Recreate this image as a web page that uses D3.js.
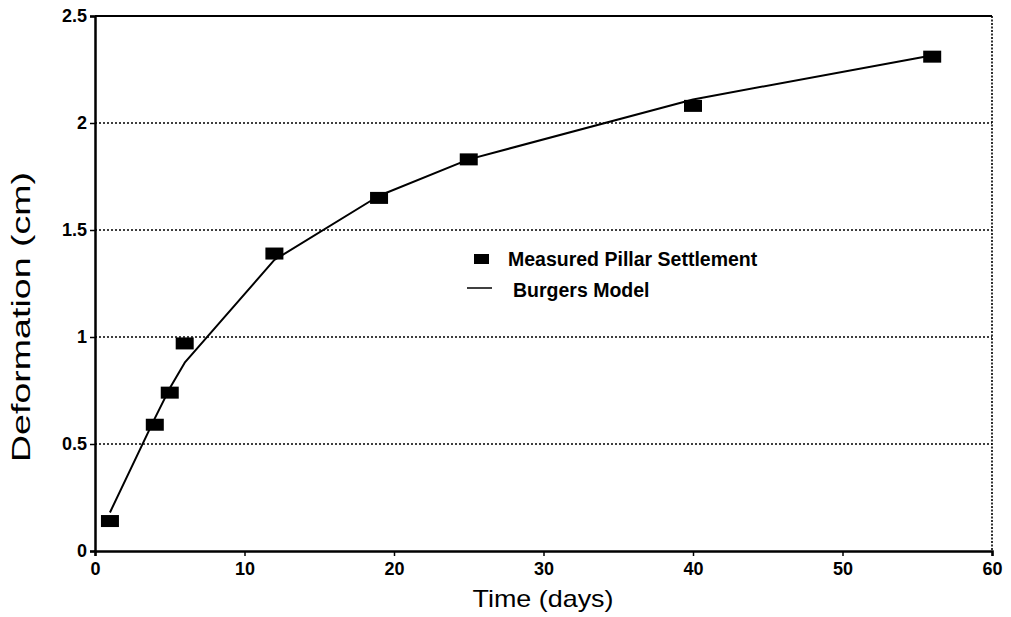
<!DOCTYPE html>
<html>
<head>
<meta charset="utf-8">
<script src="https://cdn.jsdelivr.net/npm/d3@7"></script>
<style>
  body { margin: 0; background: #fff; }
  svg { font-family: "Liberation Sans", Arial, sans-serif; }
</style>
</head>
<body>
<svg id="chart" width="1011" height="617"></svg>
<script>
// measured points
var measuredDays = [1, 4, 5, 6, 12, 19, 25, 40, 56];
var measuredDef = [0.14, 0.59, 0.74, 0.97, 1.39, 1.65, 1.83, 2.08, 2.31];

// Burgers model, evaluated at the same days
var modelDays = [1, 4, 5, 6, 12, 19, 25, 40, 55.5];
var modelDef = [0.18, 0.62, 0.76, 0.88, 1.36, 1.66, 1.83, 2.11, 2.31];

var xTicks = [0, 10, 20, 30, 40, 50, 60];
var yTicks = [0, 0.5, 1, 1.5, 2, 2.5];
var gridTicks = [0.5, 1, 1.5, 2];

var svg = d3.select("#chart");

var x = d3.scaleLinear().domain([0, 60]).range([95, 992]);
var y = d3.scaleLinear().domain([0, 2.5]).range([551, 16]);

// dotted grid
svg.append("g")
   .selectAll("line")
   .data(gridTicks)
   .enter().append("line")
   .attr("x1", x(0)).attr("x2", x(60))
   .attr("y1", function(d) { return y(d); })
   .attr("y2", function(d) { return y(d); })
   .attr("stroke", "#000")
   .attr("stroke-width", 1.6)
   .attr("stroke-dasharray", "2,2");

// frame: top solid, right dotted
svg.append("line")
   .attr("x1", x(0)).attr("x2", x(60))
   .attr("y1", y(2.5)).attr("y2", y(2.5))
   .attr("stroke", "#000").attr("stroke-width", 2);
svg.append("line")
   .attr("x1", x(60)).attr("x2", x(60))
   .attr("y1", y(2.5)).attr("y2", y(0))
   .attr("stroke", "#000").attr("stroke-width", 1.6)
   .attr("stroke-dasharray", "2,1.5");

// axes
var xAxis = svg.append("g")
   .attr("transform", "translate(0," + y(0) + ")")
   .call(d3.axisBottom(x).tickValues(xTicks).tickSize(5).tickFormat(d3.format("d")));
var yAxis = svg.append("g")
   .attr("transform", "translate(" + x(0) + ",0)")
   .call(d3.axisLeft(y).tickValues(yTicks).tickSize(5).tickFormat(function(d) { return d; }));

[xAxis, yAxis].forEach(function(a) {
  a.select(".domain").attr("stroke", "#000").attr("stroke-width", 2.5);
  a.selectAll(".tick line").attr("stroke", "#000").attr("stroke-width", 1.5);
  a.selectAll(".tick text")
   .attr("fill", "#000")
   .style("font-size", "18px")
   .style("font-weight", "bold")
   .style("font-family", "'Liberation Sans', Arial, sans-serif");
});
xAxis.selectAll(".tick text").attr("dy", "0.9em");
yAxis.selectAll(".tick text").attr("x", -8);

// model line
var line = d3.line()
   .x(function(d) { return x(d[0]); })
   .y(function(d) { return y(d[1]); });

svg.append("path")
   .datum(d3.zip(modelDays, modelDef))
   .attr("fill", "none")
   .attr("stroke", "#000")
   .attr("stroke-width", 2)
   .attr("stroke-linejoin", "round")
   .attr("d", line);

// measured markers
svg.append("g")
   .selectAll("rect")
   .data(d3.zip(measuredDays, measuredDef))
   .enter().append("rect")
   .attr("x", function(d) { return x(d[0]) - 9; })
   .attr("y", function(d) { return y(d[1]) - 6; })
   .attr("width", 18)
   .attr("height", 12)
   .attr("fill", "#000");

// legend
var legend = svg.append("g");
legend.append("rect")
   .attr("x", 474).attr("y", 254).attr("width", 15).attr("height", 10)
   .attr("fill", "#000");
legend.append("text")
   .attr("x", 508).attr("y", 266)
   .style("font-size", "19.5px").style("font-weight", "bold")
   .text("Measured Pillar Settlement");
legend.append("line")
   .attr("x1", 467).attr("x2", 492).attr("y1", 288).attr("y2", 288)
   .attr("stroke", "#000").attr("stroke-width", 1.5);
legend.append("text")
   .attr("x", 513).attr("y", 297)
   .style("font-size", "19.5px").style("font-weight", "bold")
   .text("Burgers Model");

// axis titles
svg.append("text")
   .attr("x", 543).attr("y", 607)
   .attr("text-anchor", "middle")
   .attr("textLength", 141)
   .attr("lengthAdjust", "spacingAndGlyphs")
   .style("font-size", "24px")
   .text("Time (days)");
svg.append("text")
   .attr("transform", "translate(30,317) rotate(-90)")
   .attr("text-anchor", "middle")
   .attr("textLength", 290)
   .attr("lengthAdjust", "spacingAndGlyphs")
   .style("font-size", "25px")
   .text("Deformation (cm)");
</script>
</body>
</html>
